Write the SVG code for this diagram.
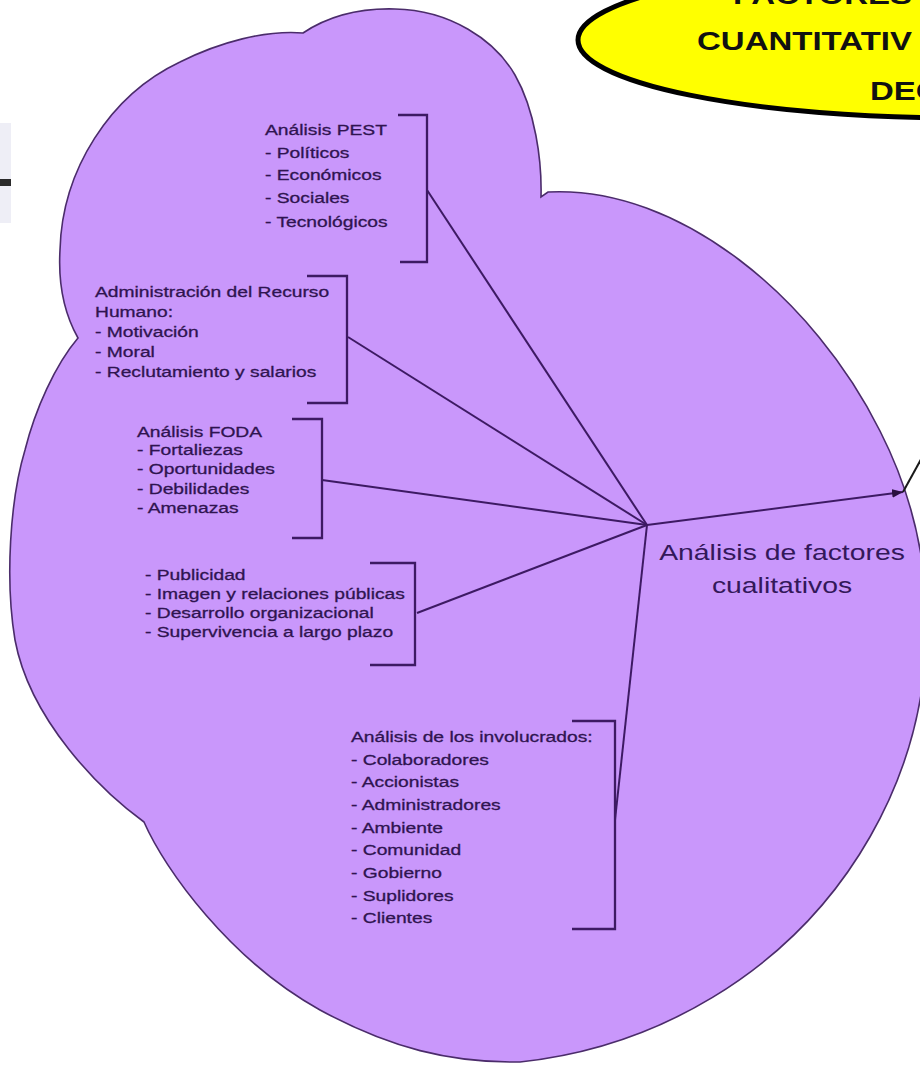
<svg xmlns="http://www.w3.org/2000/svg" width="920" height="1065" viewBox="0 0 920 1065">
<defs>
<style>
.t{font-family:"Liberation Sans",Arial,sans-serif;font-size:15.4px;fill:#2f1450;stroke:#2f1450;stroke-width:0.3}
.lbl{font-family:"Liberation Sans",Arial,sans-serif;font-size:21.8px;fill:#33185a;text-anchor:middle}
.yt{font-family:"Liberation Sans",Arial,sans-serif;font-size:25px;font-weight:bold;fill:#111}
.br{fill:none;stroke:#3d1a63;stroke-width:2.3}
.cn{fill:none;stroke:#3d1a63;stroke-width:2}
</style>
<marker id="ah" viewBox="0 0 10 8" refX="10" refY="4" markerWidth="11" markerHeight="9" markerUnits="userSpaceOnUse" orient="auto"><path d="M0,0 L10,4 L0,8 Z" fill="#2a1040"/></marker>
</defs>
<rect width="920" height="1065" fill="#ffffff"/>

<g id="edge-mark">
<rect x="0" y="123" width="11" height="100" fill="#eeeef6"/>
<rect x="0" y="179" width="11" height="7" fill="#2a2a2a"/>
</g>

<g id="cloud">
<path d="M303,33 C330,15 360,8 395,9 C450,10 495,40 515,75 C535,110 542,160 541,197 L548,192 C680,185 815,300 880,431 A457 440 0 0 1 520,1062 C450,1063 390,1048 320,1010 C230,960 165,870 144,822 C100,790 30,720 15,640 C5,580 10,500 25,450 C35,410 55,365 78,338 C65,315 58,285 60,250 C62,170 110,95 180,62 C220,42 265,30 303,33 Z" fill="#c997fb" stroke="#4b2c6b" stroke-width="1.6"/>
</g>

<g id="yellow-title">
<ellipse cx="960" cy="40" rx="382" ry="78" fill="#ffff00" stroke="#000" stroke-width="5"/>
<g transform="translate(733 0) scale(1.32 1)"><text class="yt" x="0" y="4">FACTORES</text></g>
<g transform="translate(697 0) scale(1.32 1)"><text class="yt" x="0" y="50">CUANTITATIV</text></g>
<g transform="translate(870 0) scale(1.32 1)"><text class="yt" x="0" y="100">DEC</text></g>
</g>

<g id="connectors">
<line class="cn" x1="427" y1="190" x2="647" y2="525"/>
<line class="cn" x1="348" y1="337" x2="647" y2="525"/>
<line class="cn" x1="322" y1="480" x2="647" y2="525"/>
<line class="cn" x1="417" y1="613" x2="647" y2="525"/>
<line class="cn" x1="615" y1="820" x2="647" y2="525"/>
<line class="cn" x1="647" y1="525" x2="903" y2="492" marker-end="url(#ah)"/>
<line x1="903" y1="492" x2="925" y2="452" stroke="#1a1a1a" stroke-width="2"/>
</g>

<g id="pest">
<g transform="translate(265 0) scale(1.25 1)">
<text class="t" x="0" y="135">Análisis PEST</text>
<text class="t" x="0" y="158">- Políticos</text>
<text class="t" x="0" y="180">- Económicos</text>
<text class="t" x="0" y="203">- Sociales</text>
<text class="t" x="0" y="227">- Tecnológicos</text>
</g>
<path class="br" d="M398,115 H427 V262 H400"/>
</g>

<g id="recurso-humano">
<g transform="translate(95 0) scale(1.25 1)">
<text class="t" x="0" y="297">Administración del Recurso</text>
<text class="t" x="0" y="317">Humano:</text>
<text class="t" x="0" y="337">- Motivación</text>
<text class="t" x="0" y="357">- Moral</text>
<text class="t" x="0" y="377">- Reclutamiento y salarios</text>
</g>
<path class="br" d="M307,276 H347 V403 H307"/>
</g>

<g id="foda">
<g transform="translate(137 0) scale(1.25 1)">
<text class="t" x="0" y="437">Análisis FODA</text>
<text class="t" x="0" y="455">- Fortaliezas</text>
<text class="t" x="0" y="474">- Oportunidades</text>
<text class="t" x="0" y="494">- Debilidades</text>
<text class="t" x="0" y="513">- Amenazas</text>
</g>
<path class="br" d="M292,419 H322 V538 H292"/>
</g>

<g id="publicidad">
<g transform="translate(145 0) scale(1.25 1)">
<text class="t" x="0" y="580">- Publicidad</text>
<text class="t" x="0" y="599">- Imagen y relaciones públicas</text>
<text class="t" x="0" y="618">- Desarrollo organizacional</text>
<text class="t" x="0" y="637">- Supervivencia a largo plazo</text>
</g>
<path class="br" d="M370,563 H415 V665 H370"/>
</g>

<g id="involucrados">
<g transform="translate(351 0) scale(1.25 1)">
<text class="t" x="0" y="742">Análisis de los involucrados:</text>
<text class="t" x="0" y="765">- Colaboradores</text>
<text class="t" x="0" y="787">- Accionistas</text>
<text class="t" x="0" y="810">- Administradores</text>
<text class="t" x="0" y="833">- Ambiente</text>
<text class="t" x="0" y="855">- Comunidad</text>
<text class="t" x="0" y="878">- Gobierno</text>
<text class="t" x="0" y="901">- Suplidores</text>
<text class="t" x="0" y="923">- Clientes</text>
</g>
<path class="br" d="M572,721 H615 V929 H572"/>
</g>

<g id="factores-cualitativos">
<g transform="translate(782 0) scale(1.3 1)">
<text class="lbl" x="0" y="560">Análisis de factores</text>
<text class="lbl" x="0" y="593">cualitativos</text>
</g>
</g>
</svg>
